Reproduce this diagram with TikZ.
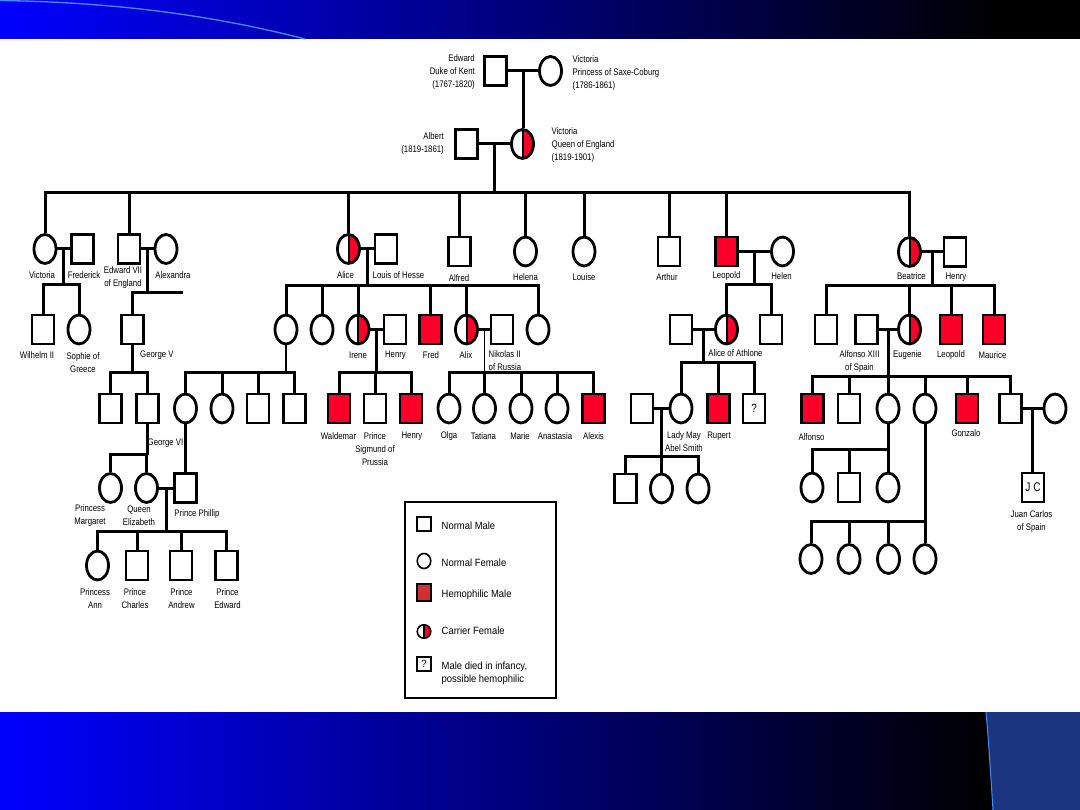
\documentclass[tikz,border=0pt]{standalone}
\usepackage{fontspec}
\usetikzlibrary{shapes.geometric,calc}
\newfontfamily\pedfam[FakeStretch=0.82]{Liberation Sans}
\newfontfamily\legfam[FakeStretch=0.9]{Liberation Sans}
\newcommand\pedfont{\pedfam\fontsize{9.5}{13}\selectfont}
\newcommand\legfont{\legfam\fontsize{10.5}{13.3}\selectfont}
\definecolor{hred}{RGB}{250,0,40}
\definecolor{legred}{RGB}{208,48,48}
\definecolor{bannerblue}{RGB}{0,0,255}
\definecolor{curveblue}{RGB}{70,140,255}
\definecolor{panelblue}{RGB}{27,53,128}
\begin{document}
\begin{tikzpicture}[x=1pt,y=-1pt,
  ln/.style={line width=3pt},
  thinln/.style={line width=1.3pt},
  M/.style={draw, line width=2.8pt, fill=white, inner sep=0pt,
            minimum width=22pt, minimum height=29pt},
  F/.style={M, ellipse},
  A/.style={M, fill=hred},
  C/.style={F, path picture={
      \fill[hred] (path picture bounding box.north) rectangle (path picture bounding box.south east);
      \draw[line width=2pt] (path picture bounding box.north) -- (path picture bounding box.south);}},
  lb/.style={font=\pedfont, inner sep=0pt, align=center},
  lg/.style={font=\legfont, inner sep=0pt, align=left, anchor=west},
  LM/.style={draw, line width=1.6pt, fill=white, inner sep=0pt, minimum width=13.5pt, minimum height=13.5pt},
]
\useasboundingbox (0,0) rectangle (1080,810);
\fill[white] (0,0) rectangle (1080,810);
% ---------- banners ----------
\shade[left color=bannerblue, right color=black] (0,0) rectangle (1000,39);
\fill[black] (999,0) rectangle (1080,39);
\draw[curveblue, line width=1.3pt] (0,0.5) .. controls (100,2) and (200,12) .. (305,39);
\shade[left color=bannerblue, right color=black] (0,712) rectangle (990,810);
\fill[black] (989,712) rectangle (1080,810);
\fill[panelblue] (986,712) .. controls (989,745) and (991,780) .. (993,810) -- (1080,810) -- (1080,712) -- cycle;
\draw[curveblue, line width=1pt] (986,712) .. controls (989,745) and (991,780) .. (993,810);

% ---------- generation 0 ----------
\node[M] (edw) at (495.5,71) {};
\node[F] (vpr) at (550.5,71) {};
\node[M] (alb) at (466.5,144) {};
\node[C] (vq) at (522.5,144) {};
\node[lb, anchor=east, align=right] (l-edw) at (475,72.5) {Edward\\Duke of Kent\\(1767-1820)};
\node[lb, anchor=west, align=left] (l-vpr) at (572.5,73) {Victoria\\Princess of Saxe-Coburg\\(1786-1861)};
\node[lb, anchor=east, align=right] (l-alb) at (444,144) {Albert\\(1819-1861)};
\node[lb, anchor=west, align=left] (l-vq) at (551.5,145.5) {Victoria\\Queen of England\\(1819-1901)};

\draw[ln] (edw) -- (vpr);
\path (edw) -- (vpr) coordinate[midway] (m0);
\draw[ln] (m0) -- (m0 |- vq.north);
\draw[ln] (alb) -- (vq);
\path (alb) -- (vq) coordinate[midway] (m1);
\coordinate (s1) at (m1 |- 0,193);
\draw[ln] (m1) -- (s1);

% ---------- generation 1 ----------
\node[F] (vic) at (45,249) {};
\node[M] (fred) at (82.5,249) {};
\node[M] (ed7) at (129,249) {};
\node[F] (alex) at (166,249) {};
\node[C] (alice) at (348.5,249) {};
\node[M] (louis) at (386,249) {};
\node[M] (alfred) at (459.5,251.5) {};
\node[F] (helena) at (525.5,251.5) {};
\node[F] (louise) at (584,251.5) {};
\node[M] (arthur) at (669,251.5) {};
\node[A] (leo) at (726.5,251.5) {};
\node[F] (helen) at (782.5,251.5) {};
\node[C] (bea) at (909.5,252) {};
\node[M] (henb) at (955,252) {};

\draw[ln] (vic.north) |- (s1) -| (bea.north);
\foreach \n in {ed7,alice,alfred,helena,louise,arthur,leo}
  \draw[ln] (\n.north) -- (\n.north |- s1);

\node[lb] (l-vic) at (42,275) {Victoria};
\node[lb] (l-fred) at (84,275) {Frederick};
\node[lb] (l-ed7) at (123,278) {Edward VII\\of England};
\node[lb] (l-alex) at (173,275) {Alexandra};
\node[lb] (l-alice) at (345.5,275) {Alice};
\node[lb] (l-louis) at (398.5,275.5) {Louis of Hesse};
\node[lb] (l-alfred) at (459,278) {Alfred};
\node[lb] (l-helena) at (525.5,277.5) {Helena};
\node[lb] (l-louise) at (584,277.5) {Louise};
\node[lb] (l-arthur) at (667,277.5) {Arthur};
\node[lb] (l-leo) at (726.5,276) {Leopold};
\node[lb] (l-helen) at (781.5,276) {Helen};
\node[lb] (l-bea) at (911.5,276) {Beatrice};
\node[lb] (l-henb) at (956,277.5) {Henry};

% ---------- Victoria + Frederick ----------
\node[M] (wil) at (43,329.5) {};
\node[F] (soph) at (79,329.5) {};
\draw[ln] (vic) -- (fred);
\path (vic) -- (fred) coordinate[midway] (mv);
\coordinate (sv) at (mv |- 0,285);
\draw[ln] (mv) -- (sv);
\draw[ln] (wil.north) |- (sv) -| (soph.north);
\node[lb] (l-wil) at (37,355) {Wilhelm II};
\node[lb] (l-soph) at (83,362.5) {Sophie of\\Greece};

% ---------- Edward VII + Alexandra ----------
\node[M] (geo5) at (132.5,329.5) {};
\draw[ln] (ed7) -- (alex);
\path (ed7) -- (alex) coordinate[midway] (me7);
\coordinate (se7) at (me7 |- 0,293);
\coordinate (e7r) at (183,293);
\draw[ln] (me7) -- (se7);
\draw[ln] (geo5.north) |- (e7r);
\node[lb, anchor=west] (l-geo5) at (140,355) {George V};

\node[M] (sq1) at (110.5,408.5) {};
\node[M] (geo6) at (147.5,408.5) {};
\coordinate (sg5) at (geo5.south |- 0,373);
\draw[ln] (geo5.south) -- (sg5);
\draw[ln] (sq1.north) |- (sg5) -| (geo6.north);

% ---------- Alice + Louis ----------
\node[F] (a1) at (286,329.5) {};
\node[F] (a2) at (322,329.5) {};
\node[C] (irene) at (358,329.5) {};
\node[M] (henp) at (395,329.5) {};
\node[A] (fredh) at (430.5,329.5) {};
\node[C] (alix) at (466.5,329.5) {};
\node[M] (nik) at (502,329.5) {};
\node[F] (a8) at (538,329.5) {};
\draw[ln] (alice) -- (louis);
\path (alice) -- (louis) coordinate[midway] (ma);
\coordinate (sa) at (ma |- 0,286);
\draw[ln] (ma) -- (sa);
\draw[ln] (a1.north) |- (sa) -| (a8.north);
\foreach \n in {a2,irene,fredh,alix}
  \draw[ln] (\n.north) -- (\n.north |- sa);
\node[lb] (l-irene) at (358,355.5) {Irene};
\node[lb] (l-henp) at (395.5,355.5) {Henry};
\node[lb] (l-fredh) at (431,355.5) {Fred};
\node[lb] (l-alix) at (466,355.5) {Alix};
\node[lb, anchor=west, align=left] (l-nik) at (488.5,360.5) {Nikolas II\\of Russia};

% first daughter of Alice
\node[F] (b1) at (185.5,408.5) {};
\node[F] (b2) at (222,408.5) {};
\node[M] (b3) at (258,408.5) {};
\node[M] (b4) at (294.5,408.5) {};
\coordinate (sb) at (a1.south |- 0,373);
\draw[thinln] (a1.south) -- (sb);
\draw[ln] (b1.north) |- (sb) -| (b4.north);
\foreach \n in {b2,b3}
  \draw[ln] (\n.north) -- (\n.north |- sb);

% George VI children, Phillip
\node[F] (marg) at (110.5,488) {};
\node[F] (eliz) at (146.5,488) {};
\node[M] (phil) at (185.5,488) {};
\draw[ln] (b1) -- (phil);
\node[lb, anchor=west] (l-geo6) at (147.5,443) {George VI};
\coordinate (sg6) at (geo6.south |- 0,455);
\draw[ln] (geo6.south) -- (sg6);
\draw[ln] (marg.north) |- (sg6) -| (eliz.north);
\node[lb] (l-marg) at (90,515.5) {Princess\\Margaret};
\node[lb] (l-eliz) at (139,516) {Queen\\Elizabeth};
\node[lb] (l-phil) at (197,514) {Prince Phillip};

% Elizabeth + Phillip
\node[F] (ann) at (97.5,565.5) {};
\node[M] (charles) at (137,565.5) {};
\node[M] (andrew) at (181,565.5) {};
\node[M] (edwp) at (226.5,565.5) {};
\draw[ln] (eliz) -- (phil);
\path (eliz) -- (phil) coordinate[midway] (mel);
\coordinate (sel) at (mel |- 0,531.5);
\draw[ln] (mel) -- (sel);
\draw[ln] (ann.north) |- (sel) -| (edwp.north);
\foreach \n in {charles,andrew}
  \draw[ln] (\n.north) -- (\n.north |- sel);
\node[lb] (l-ann) at (95,599) {Princess\\Ann};
\node[lb] (l-charles) at (135,599) {Prince\\Charles};
\node[lb] (l-andrew) at (181.5,599) {Prince\\Andrew};
\node[lb] (l-edwp) at (227.5,599) {Prince\\Edward};

% Irene + Henry
\node[A] (wald) at (339,408.5) {};
\node[M] (sig) at (375,408.5) {};
\node[A] (henw) at (411,408.5) {};
\draw[ln] (irene) -- (henp);
\path (irene) -- (henp) coordinate[midway] (mi);
\coordinate (si) at (mi |- 0,372.5);
\draw[ln] (mi) -- (si);
\draw[ln] (wald.north) |- (si) -| (henw.north);
\draw[ln] (sig.north) -- (sig.north |- si);
\node[lb] (l-wald) at (338.5,436) {Waldemar};
\node[lb] (l-sig) at (375,449) {Prince\\Sigmund of\\Prussia};
\node[lb] (l-henw) at (412,436) {Henry};

% Alix + Nikolas
\node[F] (olga) at (449,408.5) {};
\node[F] (tat) at (484.5,408.5) {};
\node[F] (marie) at (521,408.5) {};
\node[F] (anas) at (557,408.5) {};
\node[A] (alexis) at (593.5,408.5) {};
\draw[ln] (alix) -- (nik);
\path (alix) -- (nik) coordinate[midway] (mx);
\coordinate (sx) at (mx |- 0,372.5);
\draw[thinln] (mx) -- (sx);
\draw[ln] (olga.north) |- (sx) -| (alexis.north);
\foreach \n in {tat,marie,anas}
  \draw[ln] (\n.north) -- (\n.north |- sx);
\node[lb] (l-olga) at (449,436) {Olga};
\node[lb] (l-tat) at (483.5,436) {Tatiana};
\node[lb] (l-marie) at (520,436) {Marie};
\node[lb] (l-anas) at (555,436) {Anastasia};
\node[lb] (l-alexis) at (593.5,436) {Alexis};

% ---------- Leopold + Helen ----------
\node[C] (aoa) at (726.5,329.5) {};
\node[M] (c2) at (771,329.5) {};
\node[M] (alx2) at (681,329.5) {};
\draw[ln] (leo) -- (helen);
\path (leo) -- (helen) coordinate[midway] (ml);
\coordinate (sl) at (ml |- 0,284.5);
\draw[ln] (ml) -- (sl);
\draw[ln] (aoa.north) |- (sl) -| (c2.north);
\node[lb] (l-aoa) at (735.5,353.5) {Alice of Athlone};

\node[F] (may) at (681,408.5) {};
\node[A] (rup) at (718.5,408.5) {};
\node[M] (qm) at (754,408.5) {\pedfam\fontsize{12}{12}\selectfont ?};
\node[M] (hsb) at (642,408.5) {};
\draw[ln] (alx2) -- (aoa);
\path (alx2) -- (aoa) coordinate[midway] (mao);
\coordinate (sao) at (mao |- 0,363);
\draw[ln] (mao) -- (sao);
\draw[ln] (may.north) |- (sao) -| (qm.north);
\draw[ln] (rup.north) -- (rup.north |- sao);
\node[lb] (l-may) at (684,442) {Lady May\\Abel Smith};
\node[lb] (l-rup) at (719,436) {Rupert};

\node[M] (d1) at (625.5,488.5) {};
\node[F] (d2) at (661.5,488.5) {};
\node[F] (d3) at (698,488.5) {};
\draw[ln] (hsb) -- (may);
\path (hsb) -- (may) coordinate[midway] (mm);
\coordinate (sm) at (mm |- 0,456.5);
\draw[ln] (mm) -- (sm);
\draw[ln] (d1.north) |- (sm) -| (d3.north);
\draw[ln] (d2.north) -- (d2.north |- sm);

% ---------- Beatrice + Henry ----------
\node[M] (e1) at (826,329.5) {};
\node[M] (alf13) at (866.5,329.5) {};
\node[C] (eug) at (909.5,329.5) {};
\node[A] (leo2) at (951,329.5) {};
\node[A] (maur) at (994,329.5) {};
\draw[ln] (bea) -- (henb);
\path (bea) -- (henb) coordinate[midway] (mb);
\coordinate (sbe) at (mb |- 0,285.5);
\draw[ln] (mb) -- (sbe);
\draw[ln] (e1.north) |- (sbe) -| (maur.north);
\foreach \n in {eug,leo2}
  \draw[ln] (\n.north) -- (\n.north |- sbe);
\node[lb] (l-alf13) at (859.5,361.5) {Alfonso XIII\\of Spain};
\node[lb] (l-eug) at (907.5,355) {Eugenie};
\node[lb] (l-leo2) at (951,355) {Leopold};
\node[lb] (l-maur) at (992.5,355) {Maurice};

% Alfonso XIII + Eugenie
\node[A] (alfo) at (812.5,408.5) {};
\node[M] (f2) at (849,408.5) {};
\node[F] (f3) at (888,408.5) {};
\node[F] (f4) at (925,408.5) {};
\node[A] (gonz) at (967,408.5) {};
\node[M] (f6) at (1010.5,408.5) {};
\node[F] (f7) at (1055,408.5) {};
\draw[ln] (alf13) -- (eug);
\path (alf13) -- (eug) coordinate[midway] (mae);
\coordinate (sae) at (mae |- 0,376.5);
\draw[ln] (mae) -- (sae);
\draw[ln] (alfo.north) |- (sae) -| (f6.north);
\foreach \n in {f2,f3,f4,gonz}
  \draw[ln] (\n.north) -- (\n.north |- sae);
\node[lb] (l-alfo) at (811.5,437.5) {Alfonso};
\node[lb] (l-gonz) at (966,433.5) {Gonzalo};

% Juan Carlos
\node[M] (jc) at (1033,487.5) {\pedfam\fontsize{12.5}{12.5}\selectfont J C};
\draw[ln] (f6) -- (f7);
\path (f6) -- (f7) coordinate[midway] (mj);
\draw[ln] (mj) -- (mj |- jc.north);
\node[lb] (l-jc) at (1031.5,522) {Juan Carlos\\of Spain};

% children of f3
\node[F] (g1) at (812,487.5) {};
\node[M] (g2) at (849,487.5) {};
\node[F] (g3) at (888,487.5) {};
\coordinate (sg) at (f3.south |- 0,449.5);
\draw[ln] (f3.south) -- (sg);
\draw[ln] (g1.north) |- (sg);
\draw[ln] (g2.north) -- (g2.north |- sg);
\draw[ln] (g3.north) -- (sg);

% children of f4
\node[F] (h1) at (811,559) {};
\node[F] (h2) at (849,559) {};
\node[F] (h3) at (888.5,559) {};
\node[F] (h4) at (925,559) {};
\coordinate (sh) at (f4.south |- 0,521);
\draw[ln] (f4.south) -- (h4.north);
\draw[ln] (h1.north) |- (sh);
\foreach \n in {h2,h3}
  \draw[ln] (\n.north) -- (\n.north |- sh);

% ---------- legend ----------
\node[draw, line width=2pt, inner sep=0pt, minimum width=150.5pt, minimum height=196pt] (leg) at (480.5,600) {};
\node[LM] (k1) at (424,524) {};
\node[LM, ellipse, minimum height=15pt] (k2) at (424,561) {};
\node[LM, fill=legred, minimum height=17.5pt] (k3) at (424,592.5) {};
\node[LM, ellipse, path picture={
      \fill[hred] (path picture bounding box.north) rectangle (path picture bounding box.south east);
      \draw[line width=1.2pt] (path picture bounding box.north) -- (path picture bounding box.south);}] (k4) at (424,631.5) {};
\node[LM, font=\legfont] (k5) at (424,664) {?};
\node[lg] (t1) at (441.5,525.5) {Normal Male};
\node[lg] (t2) at (441.5,562.5) {Normal Female};
\node[lg] (t3) at (441.5,594.5) {Hemophilic Male};
\node[lg] (t4) at (441.5,631) {Carrier Female};
\node[lg] (t5) at (441.5,673.5) {Male died in infancy,\\possible hemophilic};
\end{tikzpicture}
\end{document}
